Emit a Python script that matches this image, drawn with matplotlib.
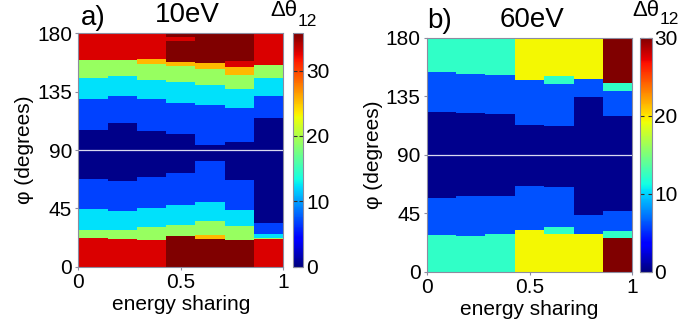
import numpy as np
import matplotlib
matplotlib.use("Agg")
import matplotlib.pyplot as plt

plt.rcParams['font.family'] = ['Liberation Sans', 'DejaVu Sans']

# ---------------- data ----------------
energy_sharing_edges = np.linspace(0, 1, 8)      # 7 energy-sharing columns
x_ticks = [0, 0.5, 1]
x_ticklabels = ['0', '0.5', '1']
phi_ticks = [0, 45, 90, 135, 180]
symmetry_phi = 90

# Panel a) 10 eV : band boundaries (deg, bottom->top) and band codes per column
levels_a = {'N': 0.4, 'B': 6.8, 'C': 12.3, 'G': 19.1, 'O': 25.5, 'R': 32.8, 'D': 35.7}
bounds_a = [
    [0, 22.1, 28.6, 44.5, 67.7, 105.7, 129.7, 145.6, 159.5, 180],
    [0, 21.6, 28.6, 42.7, 65.9, 110.6, 131.5, 147.4, 159.5, 180],
    [0, 20.6, 30.4, 45.3, 69.2, 104.5, 129.4, 144.3, 156.6, 160.5, 180],
    [0, 23.4, 32.4, 47.4, 72.5, 102.4, 126.5, 142.5, 154.6, 158.0, 174.4, 177.0, 180],
    [0, 21.6, 24.2, 35.5, 49.7, 81.8, 93.7, 124.5, 140.4, 152.8, 156.9, 180],
    [0, 20.6, 31.4, 43.7, 66.7, 96.2, 122.4, 137.3, 147.7, 153.9, 158.5, 180],
    [0, 21.6, 22.1, 25.5, 33.7, 114.7, 132.0, 145.6, 155.4, 180],
]
bands_a = ["RGCBNBCGR", "RGCBNBCGR", "RGCBNBCGOR", "DGCBNBCGODRD",
           "DOGCBNBCGOD", "DGCBNBCGORD", "RGCBNBCGR"]
vmax_a = 35.7

# Panel b) 60 eV
levels_b = {'N': 0.4, 'B': 6.2, 'A': 12.2, 'Y': 19.4, 'D': 30.0}
bounds_b = [
    [0, 28.0, 56.9, 123.1, 153.4, 180],
    [0, 27.7, 58.0, 122.1, 152.3, 180],
    [0, 29.0, 58.0, 121.3, 151.3, 180],
    [0, 31.8, 66.2, 113.1, 147.7, 180],
    [0, 29.0, 34.2, 65.2, 112.3, 144.1, 150.3, 180],
    [0, 29.0, 43.4, 134.4, 148.0, 180],
    [0, 25.9, 31.1, 46.7, 120.0, 139.0, 145.2, 180],
]
bands_b = ["ABNBA", "ABNBA", "ABNBA", "YBNBY", "YABNBAY", "YBNBY", "DABNBAD"]
vmax_b = 30.0

cbar_ticks = [0, 10, 20, 30]


def build_grid(bounds, bands, levels):
    y_edges = np.unique(np.concatenate([np.asarray(b, float) for b in bounds]))
    mids = 0.5 * (y_edges[:-1] + y_edges[1:])
    Z = np.zeros((len(mids), len(bounds)))
    for j, (b, codes) in enumerate(zip(bounds, bands)):
        idx = np.searchsorted(np.asarray(b), mids) - 1
        Z[:, j] = [levels[codes[i]] for i in idx]
    return y_edges, Z


W, H = 680, 328
fig = plt.figure(figsize=(W / 100, H / 100), dpi=100)

def frac(x0, y0, x1, y1):
    return [x0 / W, 1 - y1 / H, (x1 - x0) / W, (y1 - y0) / H]

spine_col = '#8c8ca0'
tick_fs = 15

panels = [
    dict(ax=frac(78.3, 33.3, 283.3, 266.7), cax=frac(292.7, 33.3, 303.3, 266.7),
         bounds=bounds_a, bands=bands_a, levels=levels_a, vmax=vmax_a,
         letter='a)', title='10eV', letter_xy=(81, 18), title_xy=(187, 15),
         dt_xy=(270, 11), sub_xy=(298, 21)),
    dict(ax=frac(426.7, 37.7, 632.3, 271.7), cax=frac(640, 37.7, 651.7, 271.7),
         bounds=bounds_b, bands=bands_b, levels=levels_b, vmax=vmax_b,
         letter='b)', title='60eV', letter_xy=(427, 21), title_xy=(532, 20),
         dt_xy=(632, 10), sub_xy=(660, 20)),
]

for p in panels:
    ax = fig.add_axes(p['ax'])
    y_edges, Z = build_grid(p['bounds'], p['bands'], p['levels'])
    mesh = ax.pcolormesh(energy_sharing_edges, y_edges, Z, cmap='jet',
                         vmin=0, vmax=p['vmax'], shading='flat', edgecolors='none',
                         antialiased=False)
    ax.axhline(symmetry_phi, color='#d8d8f0', lw=0.9)
    ax.set_xlim(0, 1)
    ax.set_ylim(0, 180)
    ax.set_xticks(x_ticks)
    ax.set_xticklabels(x_ticklabels)
    ax.set_yticks(phi_ticks)
    ax.tick_params(direction='out', length=2.5, width=0.8, color=spine_col,
                   labelsize=tick_fs, pad=2)
    for s in ax.spines.values():
        s.set_color(spine_col)
        s.set_linewidth(0.8)
    ax.set_xlabel('energy sharing', fontsize=tick_fs, labelpad=2)
    ax.set_ylabel('φ (degrees)', fontsize=tick_fs, labelpad=2)

    cax = fig.add_axes(p['cax'])
    cb = fig.colorbar(mesh, cax=cax, ticks=cbar_ticks)
    cb.outline.set_edgecolor(spine_col)
    cb.outline.set_linewidth(0.8)
    cax.tick_params(direction='in', length=3, width=0.8, left=True, right=True,
                    labelsize=tick_fs, pad=2, color='#303030')

    fig.text(p['letter_xy'][0] / W, 1 - p['letter_xy'][1] / H, p['letter'],
             fontsize=20, ha='left', va='center')
    fig.text(p['title_xy'][0] / W, 1 - p['title_xy'][1] / H, p['title'],
             fontsize=20, ha='center', va='center')
    fig.text(p['dt_xy'][0] / W, 1 - p['dt_xy'][1] / H, 'Δθ',
             fontsize=16, ha='left', va='center')
    fig.text(p['sub_xy'][0] / W, 1 - p['sub_xy'][1] / H, '12',
             fontsize=12.5, ha='left', va='center')

fig.savefig('out.png', dpi=100)
